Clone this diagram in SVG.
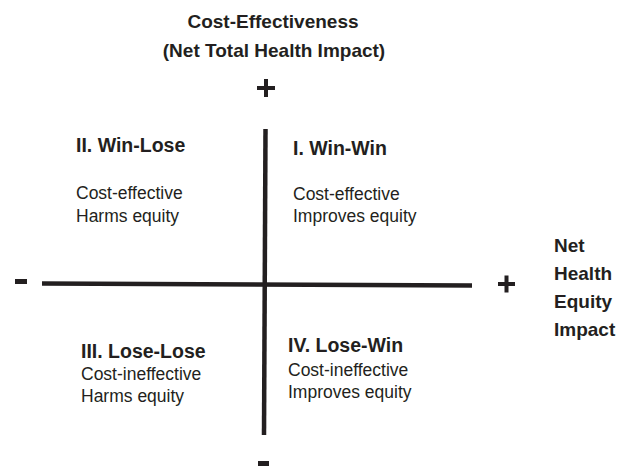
<svg xmlns="http://www.w3.org/2000/svg" width="632" height="468" viewBox="0 0 632 468">
<style>
text { font-family: "Liberation Sans", Arial, sans-serif; fill: #231f20; }
.h { font-weight: bold; font-size: 19px; }
.q { font-weight: bold; font-size: 19.5px; }
.b { font-size: 17.5px; }
.axis { stroke: #231f20; stroke-width: 4.5; fill: none; }
.sign { fill: #231f20; }
</style>
<rect width="632" height="468" fill="#ffffff"/>
<g id="connectors">
  <line class="axis" x1="265.5" y1="129" x2="264" y2="435"/>
  <line class="axis" x1="42" y1="283.5" x2="472" y2="285.5"/>
</g>
<g id="y-axis-label">
  <text class="h" x="273" y="28" text-anchor="middle">Cost-Effectiveness</text>
  <text class="h" x="274" y="57" text-anchor="middle">(Net Total Health Impact)</text>
</g>
<g id="y-plus">
  <rect class="sign" x="257" y="86" width="18" height="4"/>
  <rect class="sign" x="264" y="79" width="4" height="18"/>
</g>
<g id="y-minus">
  <rect class="sign" x="258" y="461" width="11" height="5"/>
</g>
<g id="x-minus">
  <rect class="sign" x="15" y="279" width="12" height="5"/>
</g>
<g id="x-plus">
  <rect class="sign" x="498" y="282" width="17" height="4"/>
  <rect class="sign" x="504.5" y="275.5" width="4" height="17"/>
</g>
<g id="x-axis-label">
  <text class="h" x="554" y="252">Net</text>
  <text class="h" x="554" y="280">Health</text>
  <text class="h" x="554" y="308">Equity</text>
  <text class="h" x="554" y="336">Impact</text>
</g>
<g id="q2">
  <text class="q" x="76" y="152">II. Win-Lose</text>
  <text class="b" x="76" y="199">Cost-effective</text>
  <text class="b" x="76" y="222">Harms equity</text>
</g>
<g id="q1">
  <text class="q" x="293" y="155">I. Win-Win</text>
  <text class="b" x="293" y="200">Cost-effective</text>
  <text class="b" x="293" y="222">Improves equity</text>
</g>
<g id="q3">
  <text class="q" x="81" y="358">III. Lose-Lose</text>
  <text class="b" x="81" y="380">Cost-ineffective</text>
  <text class="b" x="81" y="402">Harms equity</text>
</g>
<g id="q4">
  <text class="q" x="288" y="352">IV. Lose-Win</text>
  <text class="b" x="288" y="376">Cost-ineffective</text>
  <text class="b" x="288" y="398">Improves equity</text>
</g>
</svg>
